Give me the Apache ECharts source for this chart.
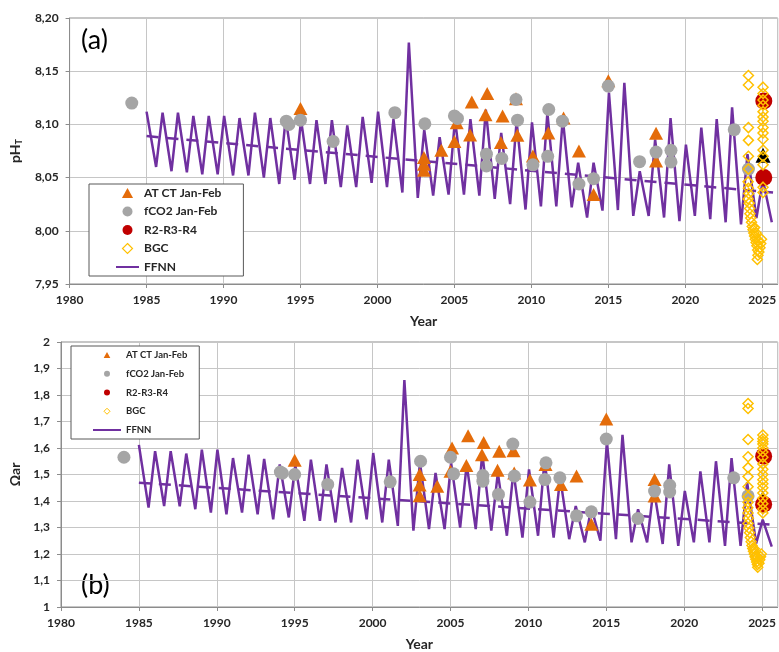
<!DOCTYPE html>
<html><head><meta charset="utf-8">
<script src="https://cdn.jsdelivr.net/npm/echarts@6/dist/echarts.min.js"></script>
<style>html,body{margin:0;padding:0;background:#fff}#c{width:779px;height:652px}</style>
</head><body><div id="c"></div><script>
// ---------- data ----------
const years = [1985,1986,1987,1988,1989,1990,1991,1992,1993,1994,1995,1996,1997,1998,1999,2000,2001,2002,2003,2004,2005,2006,2007,2008,2009,2010,2011,2012,2013,2014,2015,2016,2017,2018,2019,2020,2021,2022,2023,2024,2025];

// FFNN seasonal maxima / minima, panel (a) pH_T
const ffnnPeakA = [8.112,8.111,8.111,8.108,8.108,8.108,8.106,8.111,8.106,8.106,8.104,8.104,8.104,8.099,8.107,8.112,8.105,8.177,8.095,8.088,8.105,8.105,8.114,8.092,8.103,8.102,8.111,8.106,8.064,8.064,8.130,8.139,8.056,8.086,8.106,8.081,8.097,8.105,8.116,8.072,8.048];
const ffnnTroughA = [8.060,8.056,8.055,8.053,8.053,8.052,8.052,8.050,8.044,8.048,8.044,8.044,8.041,8.041,8.045,8.041,8.036,8.031,8.033,8.034,8.034,8.033,8.030,8.025,8.020,8.023,8.023,8.022,8.0125,8.019,8.0195,8.014,8.014,8.0125,8.009,8.014,8.011,8.008,8.006,8.012,8.008];
// FFNN seasonal maxima / minima, panel (b) Omega ar
const ffnnPeakB = [1.612,1.588,1.588,1.579,1.594,1.594,1.562,1.575,1.559,1.538,1.535,1.556,1.538,1.525,1.556,1.581,1.556,1.856,1.545,1.506,1.544,1.538,1.581,1.506,1.512,1.519,1.556,1.488,1.381,1.375,1.625,1.650,1.369,1.450,1.538,1.438,1.512,1.550,1.562,1.470,1.330];
const ffnnTroughB = [1.375,1.381,1.380,1.369,1.356,1.350,1.356,1.350,1.331,1.338,1.325,1.325,1.319,1.319,1.331,1.319,1.306,1.288,1.294,1.294,1.300,1.294,1.288,1.269,1.262,1.269,1.262,1.256,1.244,1.250,1.256,1.244,1.244,1.238,1.231,1.244,1.244,1.231,1.231,1.240,1.228];

// dashed linear trend (start / end)
const trendYears = [1985, 2025.7];
const trendA = [8.089, 8.036];
const trendB = [1.469, 1.310];

// AT CT Jan-Feb
const atctA = [[1995.0,8.115],[2003.02,8.069],[2003.02,8.0625],[2003.02,8.057],[2004.15,8.0756],[2005.0,8.084],[2005.15,8.1016],[2006.02,8.090],[2006.13,8.121],[2007.02,8.109],[2007.13,8.129],[2008.02,8.083],[2008.13,8.108],[2009.0,8.124],[2009.09,8.0897],[2010.1,8.0703],[2011.1,8.092],[2012.09,8.106],[2013.09,8.075],[2014.04,8.034],[2015.0,8.141],[2018.1,8.0916],[2018.1,8.0656]];
const atctB = [[1995.0,1.554],[2003.02,1.500],[2003.02,1.460],[2003.02,1.420],[2004.15,1.456],[2005.0,1.5125],[2005.1,1.600],[2006.02,1.534],[2006.13,1.646],[2007.02,1.575],[2007.13,1.621],[2008.02,1.516],[2008.13,1.5875],[2009.04,1.590],[2009.09,1.506],[2010.1,1.479],[2011.1,1.5375],[2012.09,1.4625],[2013.09,1.494],[2014.04,1.3125],[2015.0,1.709],[2018.1,1.481],[2018.1,1.419]];
// fCO2 Jan-Feb
const fco2A = [[1984.04,8.120],[1994.08,8.103],[1994.25,8.100],[1995.0,8.104],[1997.12,8.084],[2001.13,8.111],[2003.08,8.1006],[2005.0,8.108],[2005.2,8.1056],[2007.08,8.072],[2007.08,8.061],[2008.08,8.068],[2009.0,8.1234],[2009.1,8.104],[2010.1,8.062],[2011.13,8.114],[2011.06,8.070],[2012.02,8.103],[2013.09,8.044],[2014.04,8.049],[2015.0,8.136],[2017.03,8.065],[2018.1,8.074],[2019.07,8.0756],[2019.07,8.0647],[2023.18,8.095],[2024.1,8.058]];
const fco2B = [[1984.04,1.565],[1994.08,1.509],[1994.2,1.505],[1995.0,1.500],[1997.12,1.4625],[2001.13,1.4725],[2003.08,1.550],[2005.0,1.565],[2005.2,1.5025],[2007.08,1.496],[2007.08,1.475],[2008.08,1.425],[2009.0,1.615],[2009.1,1.494],[2010.1,1.396],[2011.13,1.544],[2011.06,1.481],[2012.02,1.4875],[2013.09,1.344],[2014.04,1.359],[2015.0,1.634],[2017.03,1.334],[2018.1,1.4375],[2019.07,1.459],[2019.07,1.434],[2023.18,1.4875],[2024.1,1.419]];
// 2025 AT CT (black)
const blackA = [[2025.05,8.071]];
const blackB = [[2025.05,1.410]];
// R2-R3-R4
const rA = [[2025.1,8.122],[2025.1,8.050]];
const rB = [[2025.1,1.569],[2025.1,1.3875]];
// BGC floats
const bgcA = [[2024.1,8.146],[2024.1,8.137],[2024.1,8.097],[2024.1,8.085],[2024.1,8.070],[2024.1,8.058],[2024.08,8.046],
  [2024.1,8.040],[2024.12,8.035],[2024.08,8.030],[2024.15,8.026],[2024.18,8.021],[2024.2,8.016],[2024.25,8.012],[2024.3,8.008],[2024.35,8.004],[2024.4,8.001],[2024.45,7.998],[2024.5,7.995],[2024.55,7.992],[2024.6,7.989],[2024.65,7.986],[2024.7,7.982],[2024.72,7.977],[2024.68,7.973],[2024.78,7.980],[2024.85,7.984],[2024.9,7.988],[2024.95,7.992],[2024.6,7.998],[2024.5,8.003],[2024.75,7.991],
  [2025.05,8.135],[2025.05,8.129],[2025.05,8.123],[2025.05,8.118],[2025.05,8.112],[2025.05,8.107],[2025.05,8.103],[2025.05,8.097],[2025.05,8.092],[2025.05,8.086],[2025.05,8.076],[2025.05,8.070],[2025.05,8.062],[2025.05,8.041],[2025.05,8.036]];
const bgcB = [[2024.1,1.768],[2024.1,1.749],[2024.1,1.632],[2024.1,1.567],[2024.1,1.526],[2024.1,1.492],[2024.1,1.454],[2024.1,1.416],[2024.1,1.395],[2024.08,1.375],
  [2024.1,1.355],[2024.12,1.335],[2024.1,1.315],[2024.15,1.298],[2024.2,1.280],[2024.25,1.262],[2024.3,1.246],[2024.35,1.232],[2024.4,1.221],[2024.45,1.210],[2024.5,1.200],[2024.55,1.190],[2024.6,1.180],[2024.65,1.170],[2024.7,1.160],[2024.72,1.150],[2024.8,1.165],[2024.85,1.178],[2024.9,1.190],[2024.95,1.200],[2024.5,1.220],[2024.7,1.190],
  [2025.05,1.649],[2025.05,1.635],[2025.05,1.625],[2025.05,1.615],[2025.05,1.600],[2025.05,1.585],[2025.05,1.565],[2025.05,1.540],[2025.05,1.520],[2025.05,1.500],[2025.05,1.480],[2025.05,1.465],[2025.05,1.450],[2025.05,1.430],[2025.05,1.410],[2025.05,1.390],[2025.05,1.370],[2025.05,1.355]];

const xTickYears = [1980,1985,1990,1995,2000,2005,2010,2015,2020,2025];
const yRangeA = [7.95, 8.20, 0.05];
const yRangeB = [1.0, 2.0, 0.1];
const legendNames = ['AT CT Jan-Feb','fCO2 Jan-Feb','R2-R3-R4','BGC','FFNN'];

// ---------- build ----------
const PEAK_PHASE = 0.04, TROUGH_PHASE = 0.62;
function ffnn(peaks, troughs){
  const pts = [];
  years.forEach((y,i)=>{
    pts.push([i===0 ? y : y + PEAK_PHASE, peaks[i]]);
    pts.push([y + TROUGH_PHASE, troughs[i]]);
  });
  return pts;
}
const FONT = 'Lato';
const TXT = '#262626';
const PURPLE = '#7030A0';
const ORANGE = '#E46C0A', GREY = '#A5A5A5', RED = '#C00000', YEL = '#FFC000';
const TRI_ICON = 'path://M5,0L10,9L0,9Z';
const DIA_ICON = 'path://M5,0L10,5L5,10L0,5Z';
const DOT_ICON = 'circle';

function xAxis(gi){
  return {
    type:'value', gridIndex:gi, min:xTickYears[0], max:2026, interval:5,
    name:'Year', nameLocation:'middle', nameGap:30,
    nameTextStyle:{fontFamily:FONT,fontWeight:'bold',fontSize:14,color:TXT},
    axisLine:{show:true,lineStyle:{color:'#8c8c8c',width:1}},
    axisTick:{show:true,length:4,lineStyle:{color:'#8c8c8c'}},
    axisLabel:{fontFamily:FONT,fontWeight:'bold',fontSize:12,color:TXT,margin:10,showMaxLabel:false,
      formatter:v=> xTickYears.indexOf(v)>=0 ? String(v) : ''},
    splitLine:{show:true,lineStyle:{color:'#c6c6c6',width:1}}
  };
}
function yAxis(gi, r, fmt, name, rich){
  return {
    type:'value', gridIndex:gi, min:r[0], max:r[1], interval:r[2],
    name:name, nameLocation:'middle', nameGap:38,
    nameTextStyle:{fontFamily:FONT,fontWeight:'bold',fontSize:14,color:TXT,rich:rich},
    axisLine:{show:true,lineStyle:{color:'#8c8c8c',width:1}},
    axisTick:{show:true,length:4,lineStyle:{color:'#8c8c8c'}},
    axisLabel:{fontFamily:FONT,fontWeight:'bold',fontSize:12,color:TXT,margin:11,formatter:fmt},
    splitLine:{show:true,lineStyle:{color:'#c6c6c6',width:1}}
  };
}
function panelSeries(i, pk, tr, trend, atct, fco2, blk, red, bgc){
  return [
    {name:'FFNN',type:'line',xAxisIndex:i,yAxisIndex:i,data:ffnn(pk,tr),showSymbol:false,symbol:'none',
      lineStyle:{color:PURPLE,width:2.5},itemStyle:{color:PURPLE},z:2,silent:true},
    {name:'trend',type:'line',xAxisIndex:i,yAxisIndex:i,data:trendYears.map((y,k)=>[y,trend[k]]),showSymbol:false,symbol:'none',
      lineStyle:{color:PURPLE,width:2.5,type:[12,8]},z:2,silent:true},
    {name:'AT CT Jan-Feb',type:'scatter',xAxisIndex:i,yAxisIndex:i,data:atct,symbol:'triangle',symbolSize:[14,13],
      itemStyle:{color:ORANGE,opacity:1},z:3},
    {name:'fCO2 Jan-Feb',type:'scatter',xAxisIndex:i,yAxisIndex:i,data:fco2,symbol:'circle',symbolSize:13,
      itemStyle:{color:GREY,opacity:1},z:4},
    {name:'AT CT 2025',type:'scatter',xAxisIndex:i,yAxisIndex:i,data:blk,symbol:'triangle',symbolSize:15,
      itemStyle:{color:'#000000',opacity:1},z:5},
    {name:'R2-R3-R4',type:'scatter',xAxisIndex:i,yAxisIndex:i,data:red,symbol:'circle',symbolSize:17,
      itemStyle:{color:RED,opacity:1},z:6},
    {name:'BGC',type:'scatter',xAxisIndex:i,yAxisIndex:i,data:bgc,symbol:'diamond',symbolSize:10,
      itemStyle:{color:'rgba(255,255,255,0)',borderColor:YEL,borderWidth:1.5,opacity:1},z:7}
  ];
}
function legendData(bw){
  return [
    {name:'AT CT Jan-Feb',icon:TRI_ICON,itemStyle:{color:ORANGE,opacity:1}},
    {name:'fCO2 Jan-Feb',icon:DOT_ICON,itemStyle:{color:GREY,opacity:1}},
    {name:'R2-R3-R4',icon:DOT_ICON,itemStyle:{color:RED,opacity:1}},
    {name:'BGC',icon:DIA_ICON,itemStyle:{color:'#ffffff',borderColor:YEL,borderWidth:bw,opacity:1}},
    {name:'FFNN',itemStyle:{opacity:0,color:'rgba(0,0,0,0)',borderWidth:0}}
  ];
}

const chart = echarts.init(document.getElementById('c'));
chart.setOption({
  animation:false,
  backgroundColor:'#ffffff',
  grid:[
    {left:61,top:18,width:718,height:266,show:true,borderColor:'#8c8c8c',borderWidth:1,backgroundColor:'transparent'},
    {left:61,top:342,width:718,height:265,show:true,borderColor:'#8c8c8c',borderWidth:1,backgroundColor:'transparent'}
  ],
  xAxis:[xAxis(0), xAxis(1)],
  yAxis:[
    yAxis(0, yRangeA, v=>v.toFixed(2).replace('.',','), '{a|pH}{b|T}',
      {a:{fontFamily:FONT,fontWeight:'bold',fontSize:14,color:TXT},b:{fontFamily:FONT,fontWeight:'bold',fontSize:9,color:TXT,padding:[9,0,0,0]}}),
    yAxis(1, yRangeB, v=>String(Math.round(v*10)/10).replace('.',','), 'Ωar', null)
  ],
  legend:[
    {data:legendData(1.2),orient:'vertical',left:89,top:184,padding:[2,22,2,26],itemWidth:23,itemHeight:10,itemGap:4.5,
      symbolKeepAspect:true,backgroundColor:'#fff',borderColor:'#595959',borderWidth:1,selectedMode:false,
      textStyle:{fontFamily:FONT,fontWeight:'bold',fontSize:12,color:TXT,lineHeight:14}},
    {data:legendData(1),orient:'vertical',left:71,top:346,padding:[3,12,3,21],itemWidth:28,itemHeight:6,itemGap:6.75,
      symbolKeepAspect:true,backgroundColor:'#fff',borderColor:'#595959',borderWidth:1,selectedMode:false,
      textStyle:{fontFamily:FONT,fontWeight:'bold',fontSize:9.5,color:TXT,lineHeight:12}}
  ],
  graphic:[
    {type:'text',left:81,top:27,style:{text:'(a)',fontFamily:FONT,fontSize:27,fill:'#000'}},
    {type:'text',left:81,top:572,style:{text:'(b)',fontFamily:FONT,fontSize:27,fill:'#000'}}
  ],
  series:[
    ...panelSeries(0, ffnnPeakA, ffnnTroughA, trendA, atctA, fco2A, blackA, rA, bgcA),
    ...panelSeries(1, ffnnPeakB, ffnnTroughB, trendB, atctB, fco2B, blackB, rB, bgcB)
  ]
});
</script></body></html>
